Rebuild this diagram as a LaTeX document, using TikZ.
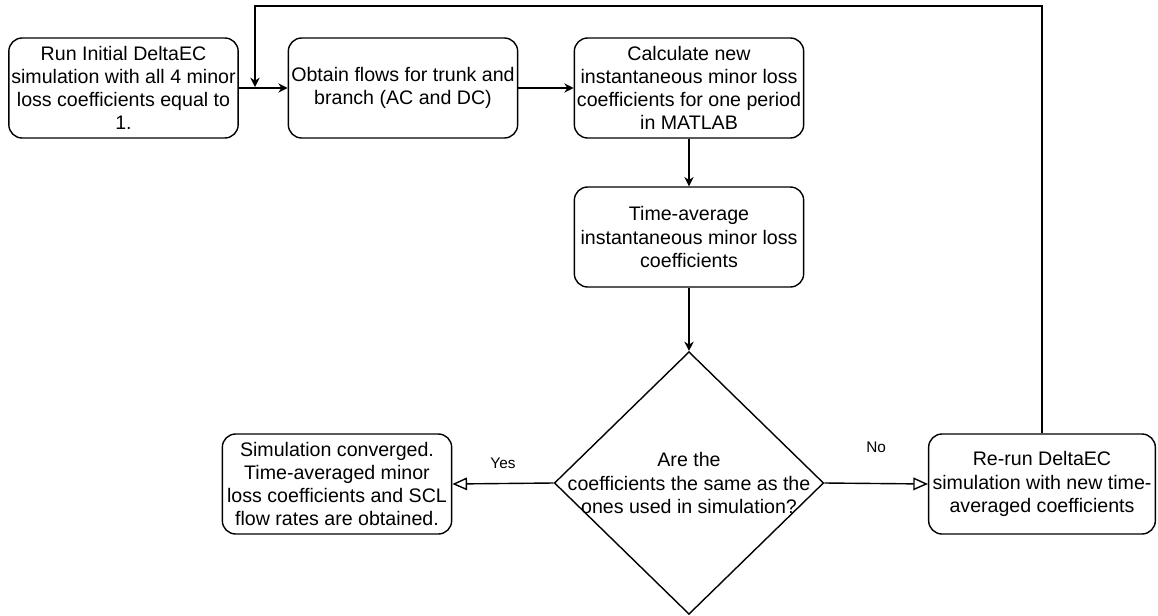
\documentclass[tikz,border=0pt]{standalone}
\usepackage{fontspec}
\setmainfont{Liberation Sans}
\usepackage{tikz}
\usetikzlibrary{
	arrows.meta,
	positioning,
	shapes.geometric
}
\usepackage{xcolor}

\begin{document}
\begin{tikzpicture}[>={Stealth[length=7pt,width=7pt]},x=0.75pt,y=-0.75pt,line width=1.05pt,
	stepbox/.style={draw,rounded corners=10pt,align=center,inner sep=0pt,
		minimum width=172pt,minimum height=75pt,
		font=\fontsize{14.7}{17.4}\selectfont},
	decbox/.style={draw,diamond,inner sep=0pt,minimum width=202pt,minimum height=197pt},
	openhead/.style={-{Triangle[open,length=11pt,width=9.5pt]}},
	answer/.style={font=\fontsize{11.5}{13}\selectfont}]
		
		\useasboundingbox (0,0) rectangle (1158,615);
		
		% First row
		\node[stepbox] (run) at (123.5,88) {Run Initial DeltaEC\\simulation with all 4 minor\\loss coefficients equal to\\1.};
		\node[stepbox] (flows) at (403,88) {Obtain flows for trunk and\\branch (AC and DC)};
		\node[stepbox] (calc) at (689,88) {Calculate new\\instantaneous minor loss\\coefficients for one period\\in MATLAB};
		\draw[->] (run) -- (flows);
		\draw[->] (flows) -- (calc);
		
		% Time average
		\node[stepbox] (avg) at (689,237) {Time-average\\instantaneous minor loss\\coefficients};
		\draw[->] (calc) -- (avg);
		
		% Decision
		\node[decbox] (check) at (689,483) {};
		\node[align=center,font=\fontsize{14.7}{17.4}\selectfont] (checktext) at (check.center) {Are the\\coefficients the same as the\\ones used in simulation?};
		\draw[->] (avg) -- (check);
		
		% Outcomes
		\node[stepbox] (conv) at (337,484) {Simulation converged.\\Time-averaged minor\\loss coefficients and SCL\\flow rates are obtained.};
		\node[stepbox,minimum width=170pt] (rerun) at (1042,484) {Re-run DeltaEC\\simulation with new time-\\averaged coefficients};
		\draw[openhead] (check.west) -- node[answer,above=7pt] (yes) {Yes} (conv.east);
		\draw[openhead] (check.east) -- node[answer,above=19pt] (no) {No} (rerun.west);
		
		% Feedback loop
		\coordinate (join) at (255,87);
		\draw[->] (rerun.north) -- (1042,6) -- (255,6) -- (join);
		
	\end{tikzpicture}
\end{document}
